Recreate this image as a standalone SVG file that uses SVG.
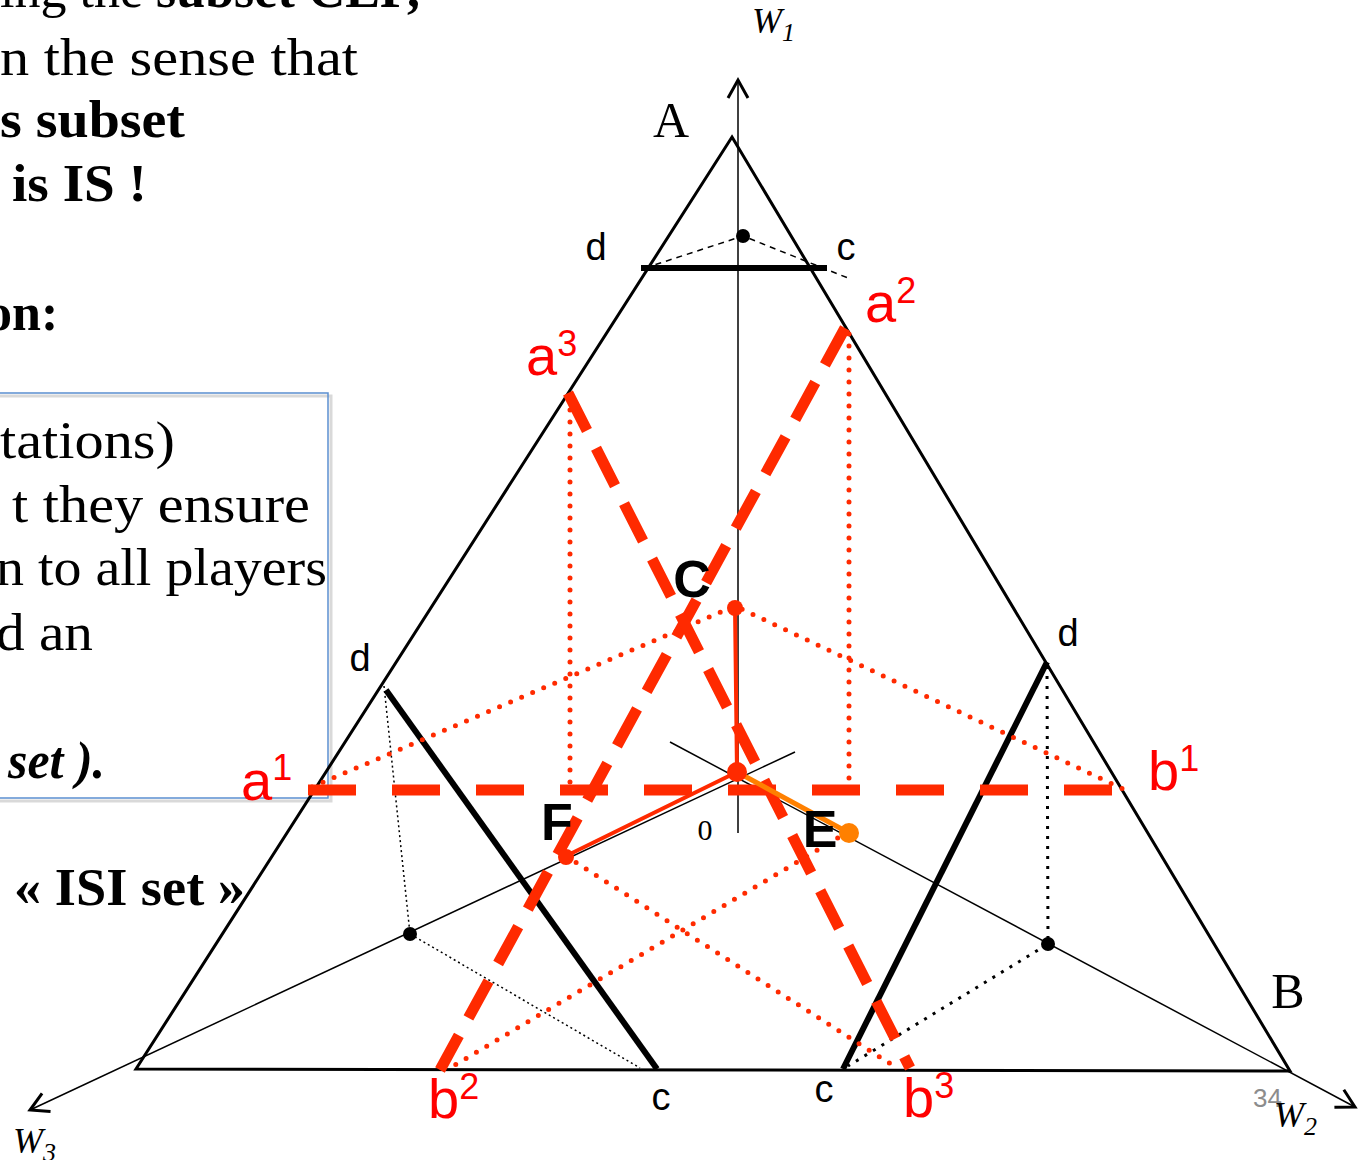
<svg xmlns="http://www.w3.org/2000/svg" width="1360" height="1160" viewBox="0 0 1360 1160">
<defs>
<style>
.serif{font-family:"Liberation Serif","Times New Roman",serif;fill:#000;font-size:52px}
.b{font-weight:bold}
.bi{font-weight:bold;font-style:italic}
.lbl{font-family:"Liberation Sans",Arial,sans-serif;font-size:38px;fill:#000}
.big{font-family:"Liberation Serif","Times New Roman",serif;font-size:50px;fill:#000}
.pt{font-family:"Liberation Sans",Arial,sans-serif;font-size:52px;font-weight:bold;fill:#000}
.red{font-family:"Liberation Sans",Arial,sans-serif;font-size:56px;fill:#ff0000}
.sup{font-size:36px}
.ax{font-family:"Liberation Serif","Times New Roman",serif;font-style:italic;font-size:36px;fill:#000}
.sub{font-size:26px}
.thin{stroke:#000;stroke-width:1.5;fill:none}
.tri{stroke:#000;stroke-width:3;fill:none}
.thick{stroke:#000;stroke-width:6;fill:none}
.rdash{stroke:#ff2a00;stroke-width:11;fill:none;stroke-dasharray:42 20}
.rdot{stroke:#ff2a00;stroke-width:5;stroke-dasharray:0 12;stroke-linecap:round;fill:none}
</style>
<marker id="arr" markerUnits="userSpaceOnUse" markerWidth="40" markerHeight="40" refX="0" refY="0" viewBox="-20 -20 40 40" orient="auto" overflow="visible">
<path d="M-18,-10 L0,0 L-18,10" fill="none" stroke="#000" stroke-width="3"/>
</marker>
</defs>
<rect width="1360" height="1160" fill="#fff"/>

<g id="text-left">
<text class="serif" x="0" y="7">ing the <tspan class="b">subset CLP,</tspan></text>
<text class="serif" x="0" y="75" textLength="358" lengthAdjust="spacingAndGlyphs">n the sense that</text>
<text class="serif b" x="0" y="137" textLength="185" lengthAdjust="spacingAndGlyphs">s subset</text>
<text class="serif b" x="12" y="201" textLength="135" lengthAdjust="spacingAndGlyphs">is IS !</text>
<text class="serif b" x="-14" y="330">on:</text>
</g>

<g id="box">
<rect x="-6" y="396" width="337" height="405" fill="none" stroke="#d9d9d9" stroke-width="3"/>
<rect x="-6" y="393" width="334" height="405" fill="none" stroke="#5b8fd0" stroke-width="1.5"/>
<text class="serif" x="0" y="458" textLength="175" lengthAdjust="spacingAndGlyphs">tations)</text>
<text class="serif" x="12" y="522" textLength="298" lengthAdjust="spacingAndGlyphs">t they ensure</text>
<text class="serif" x="-4" y="585" textLength="331" lengthAdjust="spacingAndGlyphs">n to all players</text>
<text class="serif" x="-4" y="650" textLength="97" lengthAdjust="spacingAndGlyphs">d an</text>
<text class="serif bi" x="8" y="778" textLength="97" lengthAdjust="spacingAndGlyphs">set ).</text>
</g>

<g id="isi-label">
<text class="serif b" x="14" y="905" textLength="231" lengthAdjust="spacingAndGlyphs">« ISI set »</text>
</g>

<g id="axes">
<line class="thin" x1="738" y1="833" x2="738" y2="80" marker-end="url(#arr)"/>
<line class="thin" x1="670" y1="742" x2="1355" y2="1107" marker-end="url(#arr)"/>
<line class="thin" x1="795" y1="752" x2="30" y2="1110" marker-end="url(#arr)"/>
</g>

<g id="triangle">
<polygon class="tri" points="732,137 1290,1071 136,1069" stroke-linejoin="miter"/>
</g>

<g id="black-segments">
<line class="thick" x1="641" y1="268" x2="827" y2="268" stroke-width="5"/>
<line class="thick" x1="386" y1="690" x2="657" y2="1069"/>
<line class="thick" x1="1047" y1="662" x2="843" y2="1069"/>
<polyline points="645,268 743,236 848,278" fill="none" stroke="#000" stroke-width="1.5" stroke-dasharray="6 5"/>
<polyline points="384,686 410,934 640,1068" fill="none" stroke="#000" stroke-width="1.5" stroke-dasharray="2 3"/>
<polyline points="1047,666 1048,944 848,1066" fill="none" stroke="#000" stroke-width="3" stroke-dasharray="3 7"/>
<circle cx="743" cy="236" r="7" fill="#000"/>
<circle cx="410" cy="934" r="7" fill="#000"/>
<circle cx="1048" cy="944" r="7" fill="#000"/>
</g>

<g id="red-dotted">
<polyline class="rdot" points="312,787 735,606 1125,790"/>
<line class="rdot" x1="570" y1="398" x2="570" y2="784"/>
<line class="rdot" x1="849" y1="334" x2="849" y2="784"/>
<line class="rdot" x1="566" y1="856" x2="897" y2="1068"/>
<line class="rdot" x1="848" y1="832" x2="455" y2="1065"/>
</g>

<g id="red-dashed">
<line class="rdash" x1="308" y1="790" x2="1125" y2="790" style="stroke-dasharray:48 36"/>
<line class="rdash" x1="845" y1="328" x2="440" y2="1070"/>
<line class="rdash" x1="568" y1="393" x2="910" y2="1068"/>
</g>

<g id="solution-paths">
<polyline points="735,607 737,772 566,856" fill="none" stroke="#ff2a00" stroke-width="4"/>
<line x1="737" y1="772" x2="849" y2="833" stroke="#ff8000" stroke-width="5"/>
<circle cx="735" cy="608" r="8" fill="#ff2a00"/>
<circle cx="737" cy="772" r="10" fill="#ff2a00"/>
<circle cx="566" cy="857" r="8" fill="#ff2a00"/>
<circle cx="849" cy="833" r="10" fill="#ff8000"/>
</g>

<g id="labels">
<text class="big" x="671" y="137" text-anchor="middle">A</text>
<text class="big" x="1288" y="1008" text-anchor="middle">B</text>
<text class="lbl" x="596" y="260" text-anchor="middle">d</text>
<text class="lbl" x="846" y="260" text-anchor="middle">c</text>
<text class="lbl" x="360" y="671" text-anchor="middle">d</text>
<text class="lbl" x="1068" y="646" text-anchor="middle">d</text>
<text class="lbl" x="661" y="1110" text-anchor="middle">c</text>
<text class="lbl" x="824" y="1102" text-anchor="middle">c</text>
<text class="pt" x="692" y="597" text-anchor="middle">C</text>
<text class="pt" x="820" y="847" text-anchor="middle">E</text>
<text class="pt" x="557" y="840" text-anchor="middle">F</text>
<text x="705" y="840" text-anchor="middle" font-family="Liberation Serif, serif" font-size="30">0</text>
<text x="1253" y="1107" font-family="Liberation Sans, Arial, sans-serif" font-size="26" fill="#8c8c8c">34</text>
<text class="red" x="241" y="800">a<tspan class="sup" dy="-20">1</tspan></text>
<text class="red" x="865" y="322">a<tspan class="sup" dy="-19">2</tspan></text>
<text class="red" x="526" y="375">a<tspan class="sup" dy="-19">3</tspan></text>
<text class="red" x="1148" y="790">b<tspan class="sup" dy="-19">1</tspan></text>
<text class="red" x="428" y="1118">b<tspan class="sup" dy="-19">2</tspan></text>
<text class="red" x="903" y="1117">b<tspan class="sup" dy="-19">3</tspan></text>
<text class="ax" x="752" y="33">W<tspan class="sub" dy="8">1</tspan></text>
<text class="ax" x="1274" y="1127">W<tspan class="sub" dy="8">2</tspan></text>
<text class="ax" x="13" y="1153">W<tspan class="sub" dy="8">3</tspan></text>
</g>
</svg>
